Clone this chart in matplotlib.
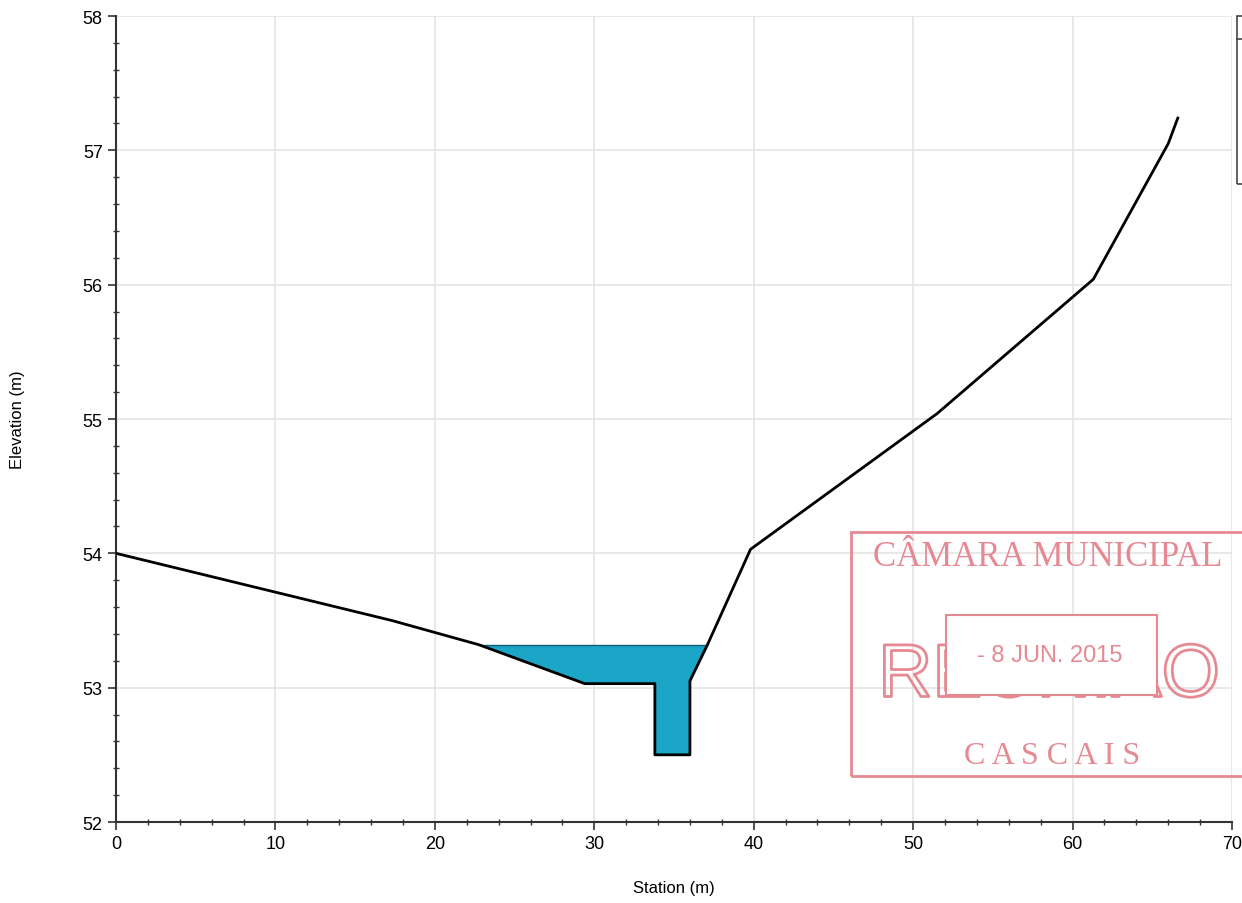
import matplotlib.pyplot as plt
from matplotlib.patches import Rectangle
from matplotlib.ticker import MultipleLocator
import matplotlib.patheffects as pe
import numpy as np

plt.rcParams['font.family'] = ['Liberation Sans', 'DejaVu Sans']

# ground profile (station, elevation)
station = [0.0, 17.3, 22.75, 29.4, 33.8, 33.8, 36.0, 36.0, 37.1, 39.8, 51.5, 61.3, 66.0, 66.6]
elevation = [54.0, 53.5, 53.32, 53.03, 53.03, 52.5, 52.5, 53.05, 53.32, 54.03, 55.04, 56.04, 57.05, 57.24]
water_level = 53.32

STAMP = "#e58a93"
WATER = "#1ba5c6"
W, H = 1242, 904


def fx(px):
    return px / W


def fy(py):
    return 1 - py / H


fig = plt.figure(figsize=(12.42, 9.04), dpi=100)
ax = fig.add_axes([fx(116), fy(823), fx(1232) - fx(116), fy(17) - fy(823)])

# water fill between profile and water surface
xs = np.array(station)
ys = np.array(elevation)
wet = ys <= water_level + 1e-9
ax.fill_between(xs, ys, water_level, where=wet, color=WATER, zorder=2, linewidth=0)
ax.plot([station[2], station[8]], [water_level, water_level], color="#0f5f78", lw=1.0, zorder=3)
ax.plot(station, elevation, color="black", lw=2.0, zorder=4)

ax.set_xlim(0, 70)
ax.set_ylim(52, 58)
ax.xaxis.set_major_locator(MultipleLocator(10))
ax.xaxis.set_minor_locator(MultipleLocator(2))
ax.yaxis.set_major_locator(MultipleLocator(1))
ax.yaxis.set_minor_locator(MultipleLocator(0.2))
ax.grid(True, which="major", color="#e4e4e4", lw=1.2, zorder=0)
ax.tick_params(which="major", direction="out", length=6, width=1.2, labelsize=13, color="#333333")
ax.tick_params(which="minor", direction="inout", length=5, width=1.0, color="#333333")
for s in ("top", "right"):
    ax.spines[s].set_visible(False)
for s in ("left", "bottom"):
    ax.spines[s].set_linewidth(1.5)
    ax.spines[s].set_color("#333333")

fig.text(fx(674), fy(889), "Station (m)", ha="center", va="center", fontsize=12)
fig.text(fx(18), fy(420), "Elevation (m)", ha="center", va="center", rotation=90, fontsize=12)

# clipped legend box at the right edge
fig.patches.append(Rectangle((fx(1237), fy(185)), fx(30), fy(17) - fy(185),
                             transform=fig.transFigure, fill=False, ec="#444444", lw=1.2))
fig.lines.append(plt.Line2D([fx(1237), 1.0], [fy(40), fy(40)], transform=fig.transFigure,
                            color="#444444", lw=1.2))

# municipal stamp
fig.patches.append(Rectangle((fx(851), fy(777)), fx(420), fy(533) - fy(777),
                             transform=fig.transFigure, fill=False, ec=STAMP, lw=2.0, zorder=5))
fig.text(fx(1048), fy(558), "CÂMARA MUNICIPAL", family="Liberation Serif", fontsize=25,
         color=STAMP, ha="center", va="center", zorder=6)
fig.text(fx(1049), fy(678), "REUNIÃO", fontsize=54, color="none", ha="center", va="center",
         zorder=6, path_effects=[pe.withStroke(linewidth=2, foreground=STAMP)])
fig.patches.append(Rectangle((fx(946), fy(696)), fx(1157) - fx(946), fy(616) - fy(696),
                             transform=fig.transFigure, fc="white", ec=STAMP, lw=1.5, zorder=7))
fig.text(fx(1050), fy(656), "- 8 JUN. 2015", fontsize=17, color=STAMP, ha="center", va="center",
         zorder=8)
fig.text(fx(1052), fy(757), "C A S C A I S", family="Liberation Serif", fontsize=23,
         color=STAMP, ha="center", va="center", zorder=6)

fig.savefig("out.png", dpi=100)
